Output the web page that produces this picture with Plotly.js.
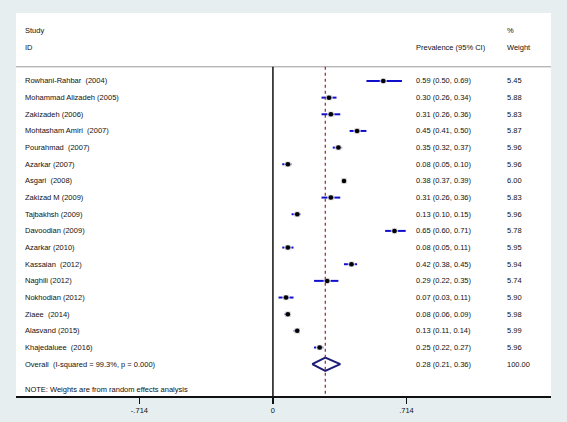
<!DOCTYPE html>
<html>
<head>
<meta charset="utf-8">
<script src="https://cdn.plot.ly/plotly-3.0.1.min.js"></script>
<style>
html,body{margin:0;padding:0;background:#e6eef0;}
#chart{width:567px;height:422px;}
</style>
</head>
<body>
<div id="chart"></div>
<script>
// ---- data ----
const studies = [
  "Rowhani-Rahbar  (2004)", "Mohammad Alizadeh (2005)", "Zakizadeh (2006)",
  "Mohtasham Amiri  (2007)", "Pourahmad  (2007)", "Azarkar (2007)",
  "Asgari  (2008)", "Zakizad M (2009)", "Tajbakhsh (2009)",
  "Davoodian (2009)", "Azarkar (2010)", "Kassaian  (2012)",
  "Naghili (2012)", "Nokhodian (2012)", "Ziaee  (2014)",
  "Alasvand (2015)", "Khajedaluee  (2016)"
];
const est = [0.59, 0.30, 0.31, 0.45, 0.35, 0.08, 0.38, 0.31, 0.13, 0.65, 0.08, 0.42, 0.29, 0.07, 0.08, 0.13, 0.25];
const lower = [0.50, 0.26, 0.26, 0.41, 0.32, 0.05, 0.37, 0.26, 0.10, 0.60, 0.05, 0.38, 0.22, 0.03, 0.06, 0.11, 0.22];
const upper = [0.69, 0.34, 0.36, 0.50, 0.37, 0.10, 0.39, 0.36, 0.15, 0.71, 0.11, 0.45, 0.35, 0.11, 0.09, 0.14, 0.27];
const weights = [5.45, 5.88, 5.83, 5.87, 5.96, 5.96, 6.00, 5.83, 5.96, 5.78, 5.95, 5.94, 5.74, 5.90, 5.98, 5.99, 5.96];
const overallLabel = "Overall  (I-squared = 99.3%, p = 0.000)";
const overallEst = 0.28, overallLower = 0.21, overallUpper = 0.36, overallWeight = 100.00;
const noteText = "NOTE: Weights are from random effects analysis";
const tickVals = [-0.714, 0, 0.714];
const tickText = ["-.714", "0", ".714"];

// ---- layout helpers ----
const n = studies.length;
const rows = studies.map((s, i) => i + 1);
const overallRow = n + 1;
const xMin = -1.374, xMax = 1.487;
const yTop = -3.08, yBottom = 19.91;
const colLabel = -1.337, colCI = 0.754, colW = 1.241;
const fmt = v => v.toFixed(2);
const textFont = {family: "Liberation Sans, Arial, sans-serif", size: 7.5, color: "#111"};

const ciX = [], ciY = [];
rows.forEach((r, i) => { ciX.push(lower[i], upper[i], null); ciY.push(r, r, null); });

const traces = [
  {x: ciX, y: ciY, mode: "lines", line: {color: "#1010cc", width: 2}, hoverinfo: "skip"},
  {x: est, y: rows, mode: "markers", marker: {symbol: "square", size: weights.map(w => Math.sqrt(w) * 2.6), color: "#b4b4b4"}, hoverinfo: "skip"},
  {x: est, y: rows, mode: "markers", marker: {symbol: "circle", size: 4.5, color: "#000"}, hoverinfo: "skip"},
  {x: [overallLower, overallEst, overallUpper, overallEst, overallLower],
   y: [overallRow, overallRow - 0.4, overallRow, overallRow + 0.4, overallRow],
   mode: "lines", line: {color: "#1c1c78", width: 2}, hoverinfo: "skip"}
];

const ann = [];
const addText = (x, y, t) => ann.push({x, y, xref: "x", yref: "y", text: t, showarrow: false, xanchor: "left", yanchor: "middle", font: textFont});
addText(colLabel, -2, "Study");
addText(colLabel, -1, "ID");
addText(colCI, -1, "Prevalence (95% CI)");
addText(colW, -2, "%");
addText(colW, -1, "Weight");
studies.forEach((s, i) => {
  addText(colLabel, rows[i], s);
  addText(colCI, rows[i], `${fmt(est[i])} (${fmt(lower[i])}, ${fmt(upper[i])})`);
  addText(colW, rows[i], fmt(weights[i]));
});
addText(colLabel, overallRow, overallLabel);
addText(colCI, overallRow, `${fmt(overallEst)} (${fmt(overallLower)}, ${fmt(overallUpper)})`);
addText(colW, overallRow, fmt(overallWeight));
addText(colLabel, overallRow + 1.5, noteText);

const sepY = 0.15;
const layout = {
  width: 567, height: 422,
  margin: {l: 16, r: 16, t: 13, b: 26, pad: 0},
  paper_bgcolor: "#e6eef0",
  plot_bgcolor: "#ffffff",
  showlegend: false,
  xaxis: {
    range: [xMin, xMax], showgrid: false, zeroline: false,
    showline: true, linecolor: "#111", linewidth: 1.5,
    ticks: "outside", ticklen: 6, tickwidth: 1.5, tickcolor: "#111",
    tickvals: tickVals, ticktext: tickText,
    tickfont: {family: "Liberation Sans, Arial, sans-serif", size: 7.5, color: "#111"},
    fixedrange: true
  },
  yaxis: {range: [yBottom, yTop], visible: false, showgrid: false, zeroline: false, fixedrange: true},
  shapes: [
    {type: "line", xref: "x", yref: "y", x0: xMin, x1: xMax, y0: sepY, y1: sepY, line: {color: "#9a9a9a", width: 1}},
    {type: "line", xref: "x", yref: "y", x0: 0, x1: 0, y0: sepY, y1: yBottom, line: {color: "#111", width: 1.5}},
    {type: "line", xref: "x", yref: "y", x0: overallEst, x1: overallEst, y0: sepY, y1: yBottom, line: {color: "#8b2a2a", width: 1.2, dash: "3px,3px"}}
  ],
  annotations: ann
};

Plotly.newPlot("chart", traces, layout, {staticPlot: true, displayModeBar: false});
</script>
</body>
</html>
